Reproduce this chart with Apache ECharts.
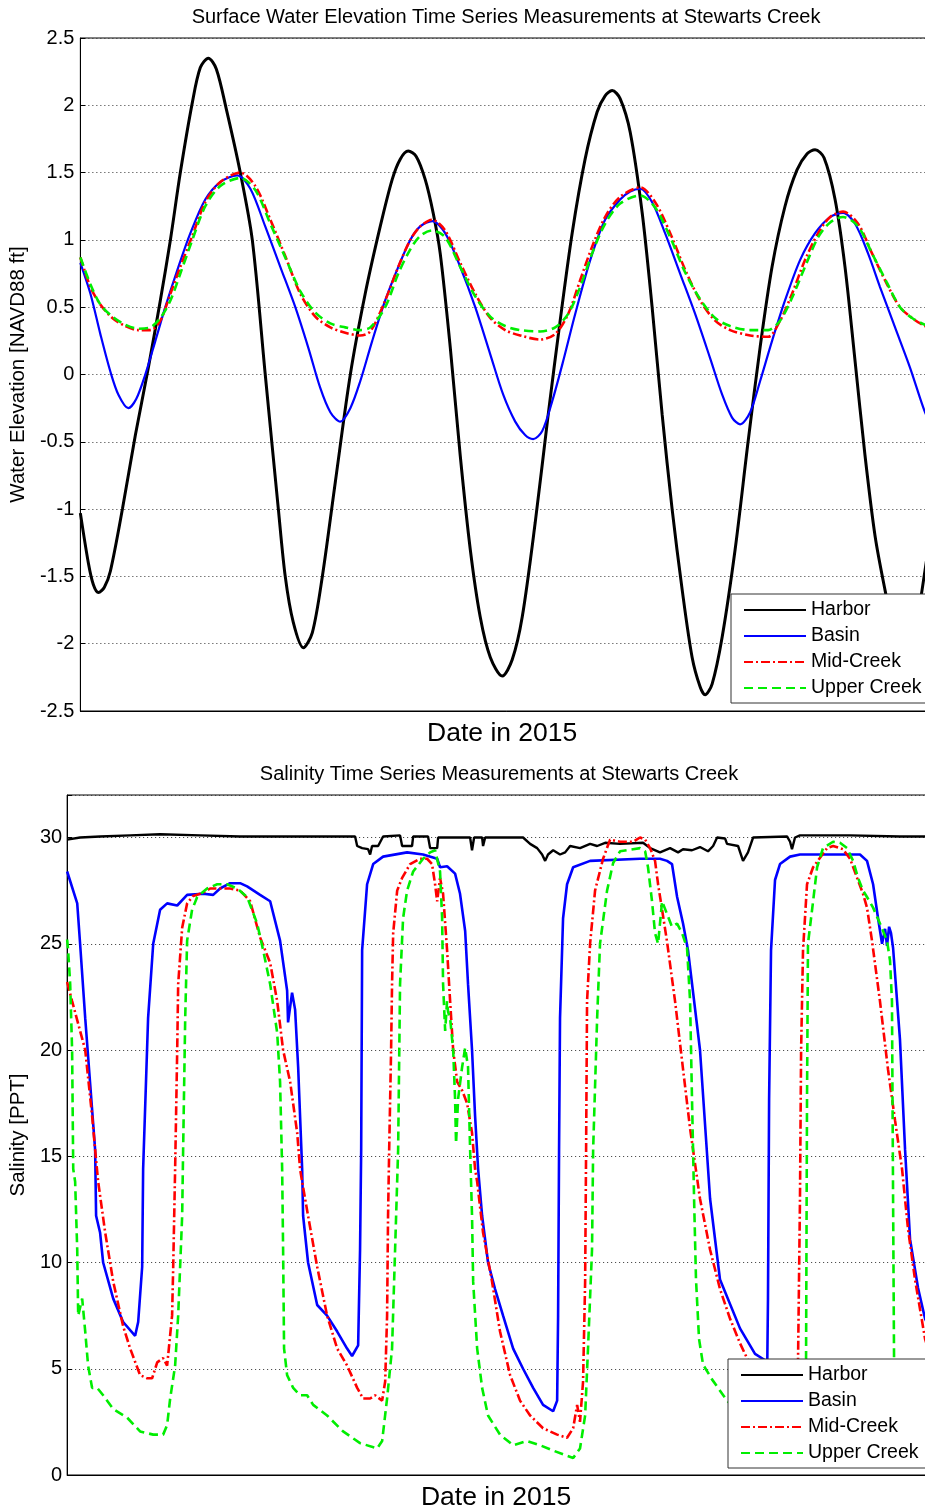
<!DOCTYPE html>
<html>
<head>
<meta charset="utf-8">
<script src="https://cdn.jsdelivr.net/npm/echarts@6/dist/echarts.min.js"></script>
<style>
html,body{margin:0;padding:0;background:#fff;overflow:hidden;width:925px;height:1512px;}
#c{width:960px;height:1512px;}
</style>
</head>
<body>
<div id="c"></div>
<script>
// ---------- DATA (time in hours from start of record) ----------
const seriesNames = ['Harbor', 'Basin', 'Mid-Creek', 'Upper Creek'];
const elevTicks = [-2.5, -2, -1.5, -1, -0.5, 0, 0.5, 1, 1.5, 2, 2.5];
const salTicks = [0, 5, 10, 15, 20, 25, 30];

// Surface water elevation [NAVD88 ft]
const elevHarbor = [[0,-1.03],[0.5,-1.4],[0.81,-1.56],[1.13,-1.62],[1.5,-1.58],[1.88,-1.46],[2.63,-1.0],[3.44,-0.45],[4.25,0.05],[5,0.55],[5.63,1.0],[6.25,1.5],[7,2.02],[7.5,2.28],[8,2.35],[8.5,2.27],[9.13,1.97],[10,1.5],[10.75,1.0],[11.56,0.0],[12.38,-1.0],[12.81,-1.5],[13.31,-1.84],[13.94,-2.03],[14.5,-1.92],[15.13,-1.5],[15.94,-0.8],[16.88,0.0],[17.81,0.6],[18.75,1.1],[19.5,1.45],[20,1.6],[20.5,1.66],[21,1.62],[21.56,1.45],[22.06,1.2],[22.5,0.9],[23.13,0.2],[23.75,-0.6],[24.38,-1.3],[25,-1.8],[25.63,-2.1],[26.38,-2.24],[27,-2.12],[27.63,-1.8],[28.44,-1.1],[29.25,-0.3],[30,0.4],[30.75,1.05],[31.56,1.6],[32.31,1.95],[32.81,2.07],[33.25,2.11],[33.75,2.05],[34.38,1.8],[35.13,1.2],[35.75,0.5],[36.38,-0.3],[37,-1.0],[37.63,-1.6],[38.25,-2.1],[38.75,-2.32],[39.06,-2.38],[39.5,-2.3],[40.13,-1.95],[40.94,-1.3],[41.75,-0.5],[42.5,0.2],[43.25,0.8],[44.06,1.25],[44.81,1.52],[45.44,1.64],[45.94,1.67],[46.5,1.61],[47.19,1.3],[47.81,0.8],[48.44,0.1],[49.06,-0.6],[49.69,-1.2],[50.31,-1.6],[50.94,-1.95],[51.56,-2.1],[52.19,-1.9],[52.63,-1.6],[53.25,-1.1]];
const elevBasin = [[0,0.83],[0.63,0.6],[1.25,0.3],[1.88,0.02],[2.38,-0.15],[3,-0.25],[3.5,-0.18],[4.06,0.0],[4.69,0.25],[5.31,0.5],[6.13,0.8],[6.88,1.05],[7.81,1.3],[8.75,1.43],[9.81,1.48],[10.63,1.38],[11.56,1.1],[12.5,0.8],[13.44,0.5],[14.25,0.2],[15,-0.1],[15.63,-0.28],[16.25,-0.35],[16.88,-0.25],[17.5,-0.05],[18.25,0.25],[19.06,0.55],[19.88,0.8],[20.63,1.0],[21.25,1.1],[22,1.14],[22.81,1.05],[23.75,0.8],[24.69,0.5],[25.63,0.15],[26.44,-0.15],[27.19,-0.35],[27.81,-0.45],[28.31,-0.48],[28.88,-0.42],[29.5,-0.2],[30.19,0.1],[30.94,0.45],[31.88,0.85],[32.81,1.15],[33.75,1.3],[34.38,1.36],[35,1.38],[35.75,1.28],[36.56,1.05],[37.5,0.75],[38.44,0.45],[39.38,0.12],[40.13,-0.15],[40.75,-0.32],[41.25,-0.37],[41.88,-0.28],[42.5,-0.05],[43.25,0.25],[44.06,0.55],[45,0.85],[45.94,1.05],[46.88,1.17],[47.69,1.2],[48.44,1.12],[49.25,0.9],[50,0.65],[50.94,0.35],[51.88,0.05],[52.81,-0.28],[53.25,-0.38]];
const elevMid = [[0,0.87],[0.63,0.65],[1.25,0.52],[2,0.42],[2.81,0.36],[3.63,0.33],[4.38,0.33],[5,0.4],[5.63,0.6],[6.25,0.8],[7,1.03],[7.81,1.28],[8.75,1.43],[10,1.5],[10.94,1.4],[11.88,1.15],[12.81,0.88],[13.75,0.6],[14.69,0.43],[15.63,0.35],[16.56,0.31],[17.5,0.29],[18.13,0.32],[19.06,0.55],[19.88,0.8],[20.63,1.0],[21.25,1.1],[22,1.15],[22.81,1.07],[23.75,0.83],[24.69,0.6],[25.63,0.42],[26.56,0.33],[27.5,0.29],[28.75,0.26],[29.69,0.3],[30.5,0.45],[31.25,0.7],[32,0.95],[32.81,1.17],[33.75,1.32],[35,1.39],[35.94,1.28],[36.88,1.05],[37.81,0.78],[38.75,0.55],[39.69,0.4],[40.63,0.33],[41.88,0.29],[43,0.28],[43.75,0.4],[44.5,0.6],[45.31,0.85],[46.13,1.05],[46.88,1.17],[47.69,1.21],[48.63,1.12],[49.5,0.9],[50.44,0.67],[51.25,0.5],[52,0.42],[52.81,0.36],[53.25,0.35]];
const elevUpper = [[0,0.87],[0.63,0.67],[1.25,0.52],[2,0.43],[2.81,0.37],[3.63,0.34],[4.38,0.35],[5,0.42],[5.63,0.55],[6.25,0.75],[7,1.0],[7.81,1.25],[8.75,1.4],[10,1.46],[10.94,1.37],[11.88,1.12],[12.81,0.87],[13.75,0.62],[14.69,0.46],[15.63,0.38],[16.56,0.35],[17.5,0.33],[18.13,0.35],[19.06,0.5],[19.88,0.75],[20.63,0.93],[21.25,1.03],[22,1.07],[22.81,1.02],[23.75,0.8],[24.69,0.58],[25.63,0.43],[26.56,0.36],[27.5,0.33],[28.75,0.32],[29.69,0.35],[30.5,0.45],[31.25,0.65],[32,0.9],[32.81,1.12],[33.75,1.27],[35,1.33],[35.94,1.24],[36.88,1.02],[37.81,0.76],[38.75,0.56],[39.69,0.42],[40.63,0.36],[41.88,0.33],[43,0.33],[43.75,0.4],[44.5,0.57],[45.31,0.8],[46.13,1.02],[46.88,1.13],[47.69,1.17],[48.63,1.1],[49.5,0.9],[50.44,0.68],[51.25,0.5],[52,0.42],[52.81,0.37],[53.25,0.36]];

// Salinity [PPT]
const salHarbor = [[0,29.9],[0.81,30.0],[2.06,30.05],[3.94,30.1],[5.81,30.15],[8.31,30.1],[10.81,30.05],[13.31,30.05],[15.81,30.05],[18,30.05],[18.13,29.6],[18.44,29.5],[18.81,29.45],[18.94,29.2],[19.06,29.6],[19.44,29.6],[19.75,30.05],[20.81,30.1],[20.94,29.6],[21.56,29.6],[21.63,30.05],[22.56,30.05],[22.69,29.5],[23.13,29.5],[23.19,30.0],[25.19,30.0],[25.31,29.4],[25.44,30.0],[25.94,30.0],[26,29.6],[26.13,30.0],[28.5,30.0],[28.94,29.7],[29.38,29.5],[29.69,29.2],[29.88,28.9],[30.06,29.2],[30.38,29.4],[30.81,29.2],[31.13,29.3],[31.44,29.6],[32.06,29.5],[32.69,29.7],[33.13,29.6],[33.63,29.75],[34.56,29.7],[36,29.75],[36.44,29.5],[37.06,29.3],[37.69,29.5],[38.19,29.3],[38.5,29.45],[39.06,29.4],[39.56,29.55],[40.06,29.35],[40.38,29.6],[40.63,30.0],[41.13,29.95],[41.25,29.7],[41.94,29.6],[42.25,28.9],[42.56,29.3],[42.88,30.0],[45,30.05],[45.19,29.8],[45.31,29.45],[45.5,30.0],[45.81,30.1],[48.94,30.1],[52.06,30.05],[54,30.05]];
const salBasin = [[0,28.4],[0.63,26.9],[0.81,25.0],[1.13,21.5],[1.44,18.4],[1.75,15.3],[1.81,12.2],[2.06,11.4],[2.25,10.0],[2.88,8.3],[3.5,7.2],[4.25,6.55],[4.44,7.2],[4.69,9.8],[4.75,14.4],[5.06,21.5],[5.38,25.0],[5.81,26.6],[6.25,26.9],[6.88,26.8],[7.5,27.3],[8.5,27.35],[9.13,27.3],[9.56,27.6],[10.19,27.85],[10.81,27.85],[11.25,27.7],[12.06,27.3],[12.69,27.0],[13.31,25.15],[13.75,22.8],[13.81,21.3],[14.06,22.7],[14.25,21.9],[14.44,19.2],[14.69,14.4],[14.75,12.2],[15.06,10.0],[15.63,8.0],[16.25,7.5],[16.88,6.75],[17.5,5.95],[17.81,5.6],[18.19,6.1],[18.31,10.6],[18.38,15.3],[18.44,24.7],[18.75,27.8],[19.13,28.75],[19.75,29.1],[21.25,29.3],[22.25,29.2],[23.13,29.0],[23.31,28.6],[23.75,28.65],[24.25,28.3],[24.56,27.35],[24.88,25.6],[25.06,23.1],[25.31,20.0],[25.5,16.9],[25.69,14.4],[25.94,12.2],[26.31,10.0],[26.75,8.75],[27.25,7.5],[27.88,5.95],[28.5,5.0],[29.13,4.1],[29.75,3.3],[30.38,3.0],[30.63,3.5],[30.69,7.5],[30.75,15.3],[30.81,21.5],[31,26.2],[31.25,27.8],[31.63,28.6],[32.69,28.9],[35.81,29.0],[37.06,29.0],[37.5,28.9],[37.81,28.75],[38.13,27.2],[38.5,25.95],[38.81,24.7],[39.56,20.0],[40.19,13.0],[40.81,9.2],[42.06,6.9],[43,5.7],[43.63,5.4],[43.75,4.2],[43.81,8.3],[43.88,17.7],[44,24.7],[44.25,28.0],[44.56,28.75],[45.19,29.1],[45.81,29.2],[49.56,29.2],[50,28.9],[50.38,27.8],[50.69,26.2],[50.94,25.0],[51.13,25.7],[51.25,24.9],[51.38,25.8],[51.5,25.5],[51.63,24.8],[52.06,20.5],[52.38,15.3],[52.69,11.1],[53.19,8.8],[53.63,7.35],[54,6.8]];
const salMid = [[0,23.2],[0.31,22.3],[0.81,20.9],[1.13,20.0],[1.56,16.9],[1.75,15.3],[1.94,13.8],[2.38,11.4],[2.88,9.1],[3.5,7.0],[3.94,5.95],[4.56,4.7],[5,4.55],[5.31,4.55],[5.63,5.3],[6,5.5],[6.25,5.15],[6.56,7.5],[6.63,9.8],[6.75,14.4],[6.88,20.0],[6.94,23.1],[7.19,25.75],[7.5,26.9],[7.88,27.25],[8.5,27.4],[8.94,27.6],[9.56,27.6],[10.19,27.6],[10.81,27.5],[11.44,27.0],[12.06,25.3],[12.69,24.1],[13.13,22.3],[13.5,20.0],[13.94,18.5],[14.38,16.1],[14.56,14.4],[14.69,13.8],[15.06,12.2],[15.63,9.8],[16.25,7.5],[16.88,5.95],[17.5,5.15],[18.13,4.1],[18.5,3.6],[18.94,3.6],[19.25,3.75],[19.69,3.5],[19.88,4.4],[20,7.5],[20.06,12.2],[20.13,15.3],[20.25,20.0],[20.31,23.1],[20.38,25.5],[20.63,27.5],[20.94,28.1],[21.44,28.75],[22.06,29.0],[22.5,29.0],[22.81,28.75],[23,27.8],[23.13,27.0],[23.31,28.1],[23.5,27.35],[23.75,24.7],[23.94,22.3],[24.13,20.0],[24.38,18.5],[24.69,18.1],[25,17.5],[25.31,16.1],[25.5,14.4],[25.63,13.8],[26,11.4],[26.56,9.1],[27.06,6.75],[27.69,4.7],[28.31,3.5],[28.94,2.8],[29.75,2.2],[30.63,1.9],[31.25,1.75],[31.63,2.2],[31.88,3.3],[32.06,2.5],[32.25,4.4],[32.38,9.1],[32.44,15.3],[32.5,22.3],[32.69,25.0],[33,27.5],[33.5,29.0],[33.94,29.9],[34.56,29.8],[35.38,29.8],[35.81,30.0],[36.13,29.9],[36.44,29.5],[36.75,28.9],[36.94,27.8],[37.19,26.6],[37.5,25.1],[38,22.3],[38.5,19.1],[38.94,16.3],[39.56,13.0],[40.19,10.6],[40.81,8.75],[41.44,7.35],[42.06,6.2],[42.56,5.4],[43.31,4.0],[44.25,2.7],[45.19,2.0],[45.56,2.7],[45.69,5.5],[45.81,13.0],[45.88,20.0],[46,24.7],[46.25,27.8],[46.63,28.6],[47.5,29.5],[47.88,29.6],[48.5,29.45],[48.94,29.0],[49.38,28.1],[49.75,27.35],[50,26.7],[50.31,25.15],[50.81,22.3],[51.31,19.1],[51.75,16.7],[52.19,14.4],[52.56,11.6],[53,9.2],[53.63,6.4],[54,5.5]];
const salUpper = [[0,25.2],[0.06,24.7],[0.19,23.1],[0.31,20.0],[0.38,14.4],[0.5,13.8],[0.63,10.6],[0.69,7.5],[0.94,8.3],[1.13,6.75],[1.31,5.15],[1.56,4.1],[1.88,4.1],[2.25,3.75],[2.88,3.1],[3.75,2.7],[4.56,2.05],[5.38,1.9],[6,1.9],[6.25,2.35],[6.44,3.6],[6.75,5.15],[6.94,7.5],[7.19,12.2],[7.25,15.3],[7.38,21.5],[7.5,25.15],[7.81,26.6],[8.13,27.2],[8.75,27.6],[9.38,27.8],[10,27.8],[10.63,27.6],[11.25,27.2],[11.88,25.95],[12.25,24.7],[12.69,23.1],[13.13,20.8],[13.31,18.5],[13.44,14.4],[13.5,10.6],[13.56,5.95],[13.75,4.7],[14.13,4.1],[14.56,3.75],[15,3.75],[15.38,3.3],[16.25,2.8],[17.25,2.05],[18.31,1.5],[19.38,1.25],[19.69,1.6],[20,3.6],[20.31,5.95],[20.5,10.6],[20.69,15.3],[20.81,23.1],[21,26.2],[21.25,27.5],[21.63,28.4],[22.25,29.0],[22.69,29.3],[23,29.4],[23.31,28.4],[23.44,26.2],[23.5,23.1],[23.63,20.9],[23.75,22.3],[23.81,21.8],[23.94,21.5],[24.13,20.0],[24.25,17.7],[24.31,15.6],[24.44,17.7],[24.69,19.2],[24.88,20.1],[25.06,19.2],[25.19,15.3],[25.31,12.2],[25.38,9.1],[25.63,5.95],[25.94,4.1],[26.31,2.8],[27.06,1.9],[27.88,1.4],[28.75,1.6],[29.56,1.4],[30.38,1.15],[31.25,0.9],[31.63,0.8],[32.06,1.25],[32.38,2.8],[32.56,5.95],[32.81,10.6],[32.88,15.3],[33.13,21.5],[33.31,25.0],[33.75,27.5],[34.13,28.8],[34.56,29.35],[35.38,29.45],[35.81,29.5],[36.13,29.35],[36.31,28.6],[36.56,27.0],[36.75,25.5],[36.94,25.0],[37.19,27.0],[37.5,26.4],[37.81,25.8],[38.13,25.95],[38.44,25.5],[38.75,24.8],[38.94,22.3],[39.06,17.7],[39.19,13.0],[39.31,9.2],[39.5,6.4],[39.75,5.2],[40.31,4.5],[41.25,3.5],[42.38,2.7],[43.94,2.0],[45.5,1.5],[46,1.7],[46.19,5.5],[46.25,17.7],[46.31,25.0],[46.63,27.0],[46.88,28.6],[47.25,29.5],[47.88,29.8],[48.31,29.75],[48.75,29.5],[49.13,28.9],[49.44,28.1],[49.75,27.5],[50,27.2],[50.38,26.7],[50.81,25.95],[51.25,25.15],[51.44,24.2],[51.56,22.3],[51.63,13.0],[51.69,5.5],[51.88,3.6],[53.63,2.7],[54,2.5]];

// ---------- CHART ----------
const FONT = '"Liberation Sans", Arial, Helvetica, sans-serif';
const colors = ['#000000', '#0000ff', '#ff0000', '#00ee00'];
const topStyles = [
  {width: 3, type: 'solid'},
  {width: 2.2, type: 'solid'},
  {width: 2.6, type: [9, 3, 2, 3]},
  {width: 2.6, type: [9, 5]}
];
const botStyles = [
  {width: 2.4, type: 'solid'},
  {width: 2.6, type: 'solid'},
  {width: 2.6, type: [9, 3, 2, 3]},
  {width: 2.6, type: [9, 5]}
];
const topData = [elevHarbor, elevBasin, elevMid, elevUpper];
const botData = [salHarbor, salBasin, salMid, salUpper];

const gridLine = {show: true, lineStyle: {color: '#333', width: 1, type: [1, 3]}};

function makeSeries(dataList, styles, idx, smooth) {
  return dataList.map((d, i) => ({
    name: seriesNames[i],
    type: 'line',
    xAxisIndex: idx, yAxisIndex: idx,
    data: d,
    symbol: 'none',
    smooth: smooth,
    clip: true,
    color: colors[i],
    lineStyle: {color: colors[i], width: styles[i].width, type: styles[i].type, cap: 'butt'},
    emphasis: {disabled: true},
    animation: false
  }));
}

function legendAt(left, top) {
  return {
    data: seriesNames,
    orient: 'vertical',
    left: left, top: top,
    padding: [6, 14, 5, 12],
    itemWidth: 62, itemHeight: 14, itemGap: 6,
    backgroundColor: '#fff',
    borderColor: '#333', borderWidth: 1,
    itemStyle: {opacity: 0},
    lineStyle: {width: 2},
    textStyle: {fontFamily: FONT, fontSize: 19.5, color: '#000', lineHeight: 20},
    selectedMode: false
  };
}

const chart = echarts.init(document.getElementById('c'), null, {renderer: 'canvas'});
chart.setOption({
  animation: false,
  backgroundColor: '#fff',
  title: [
    {text: 'Surface Water Elevation Time Series Measurements at Stewarts Creek', left: 501, top: 12,
     textAlign: 'center', textVerticalAlign: 'middle',
     textStyle: {fontFamily: FONT, fontSize: 20, fontWeight: 'normal', color: '#000'}},
    {text: 'Salinity Time Series Measurements at Stewarts Creek', left: 494, top: 769,
     textAlign: 'center', textVerticalAlign: 'middle',
     textStyle: {fontFamily: FONT, fontSize: 20, fontWeight: 'normal', color: '#000'}}
  ],
  grid: [
    {left: 80, top: 38, width: 852, height: 673, show: true, borderColor: '#000', borderWidth: 1, backgroundColor: '#fff'},
    {left: 67, top: 795, width: 864, height: 682, show: true, borderColor: '#000', borderWidth: 1, backgroundColor: '#fff'}
  ],
  legend: [legendAt(731, 594), legendAt(728, 1359)],
  xAxis: [
    {type: 'value', gridIndex: 0, min: 0, max: 53.25,
     name: 'Date in 2015', nameLocation: 'middle', nameGap: 9,
     nameTextStyle: {fontFamily: FONT, fontSize: 26.5, color: '#000', verticalAlign: 'top', padding: [0, 8, 0, 0]},
     axisLine: {show: true, onZero: false, lineStyle: {color: '#000', width: 1}},
     axisTick: {show: false}, axisLabel: {show: false}, splitLine: {show: false}},
    {type: 'value', gridIndex: 1, min: 0, max: 54,
     name: 'Date in 2015', nameLocation: 'middle', nameGap: 9,
     nameTextStyle: {fontFamily: FONT, fontSize: 26.5, color: '#000', verticalAlign: 'top', padding: [0, 6, 0, 0]},
     axisLine: {show: true, onZero: false, lineStyle: {color: '#000', width: 1}},
     axisTick: {show: false}, axisLabel: {show: false}, splitLine: {show: false}}
  ],
  yAxis: [
    {type: 'value', gridIndex: 0, min: -2.5, max: 2.5, interval: 0.5,
     name: 'Water Elevation [NAVD88 ft]', nameLocation: 'middle', nameGap: 49,
     nameTextStyle: {fontFamily: FONT, fontSize: 20.5, color: '#000'},
     axisLine: {show: true, lineStyle: {color: '#000', width: 1}},
     axisTick: {show: true, inside: true, length: 5, lineStyle: {color: '#000'}},
     axisLabel: {fontFamily: FONT, fontSize: 20, color: '#000', margin: 6,
       formatter: v => elevTicks.includes(v) ? String(v) : ''},
     splitLine: gridLine},
    {type: 'value', gridIndex: 1, min: 0, max: 32, interval: 5,
     name: 'Salinity [PPT]', nameLocation: 'middle', nameGap: 36,
     nameTextStyle: {fontFamily: FONT, fontSize: 20.5, color: '#000'},
     axisLine: {show: true, lineStyle: {color: '#000', width: 1}},
     axisTick: {show: true, inside: true, length: 5, lineStyle: {color: '#000'}},
     axisLabel: {fontFamily: FONT, fontSize: 20, color: '#000', margin: 5,
       formatter: v => salTicks.includes(v) ? String(v) : ''},
     splitLine: gridLine}
  ],
  series: makeSeries(topData, topStyles, 0, 0.3).concat(makeSeries(botData, botStyles, 1, false))
});
</script>
</body>
</html>
